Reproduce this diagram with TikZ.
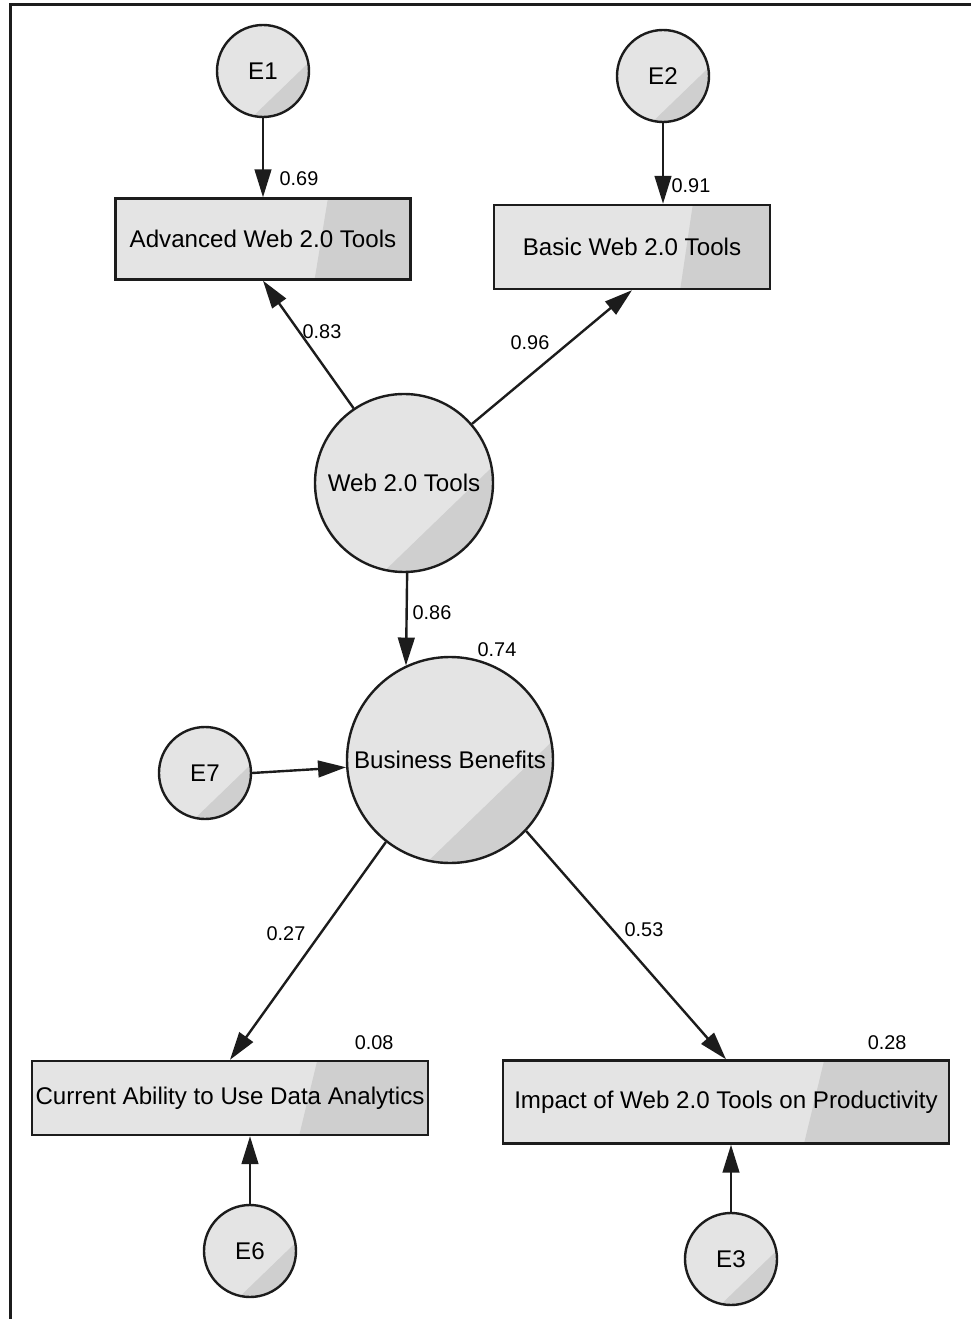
\documentclass[tikz,border=0pt]{standalone}
\usepackage{fontspec}
\setmainfont{Liberation Sans}
\usetikzlibrary{positioning, calc, arrows.meta}
\definecolor{lightfill}{RGB}{228,228,228}
\definecolor{darkfill}{RGB}{207,207,207}
\definecolor{edgegray}{RGB}{28,28,28}

\begin{document}
\begin{tikzpicture}[
    on grid,
    font=\fontsize{18.1}{21}\selectfont,
    shadecirc/.style={path picture={
        \fill[darkfill] ($(path picture bounding box.center)!1!-102:(path picture bounding box.east)$)
            -- ($(path picture bounding box.center)!1!10:(path picture bounding box.east)$)
            -- ($(path picture bounding box.center)!3!-46:(path picture bounding box.east)$) -- cycle;}},
    shadebox/.style={path picture={
        \fill[darkfill] ($(path picture bounding box.north west)!0.72!(path picture bounding box.north east)$)
            -- (path picture bounding box.north east) -- (path picture bounding box.south east)
            -- ($(path picture bounding box.south west)!0.675!(path picture bounding box.south east)$) -- cycle;}},
    latent/.style={circle, draw=edgegray, line width=1.8pt, fill=lightfill, inner sep=0pt, shadecirc},
    errc/.style={latent, minimum size=69pt},
    obs/.style={rectangle, draw=edgegray, line width=1.8pt, fill=lightfill, inner sep=0pt, shadebox},
    coef/.style={font=\fontsize{14.9}{17}\selectfont, inner sep=0pt},
    arrow/.style={line width=1.8pt, draw=edgegray, -{Triangle[length=21pt, width=12.5pt]}}
]
\useasboundingbox (-303pt,-627pt) rectangle (425.25pt,362.25pt);
\draw [line width=2.25pt, edgegray] (-295pt,-627pt) -- (-295pt,359pt) -- (425.25pt,359pt);

% latent variables and indicators
\node (web) [latent, minimum size=133.5pt] {Web 2.0 Tools};
\node (adv) [obs, minimum width=221.25pt, minimum height=60.75pt, above left=183pt and 105.75pt of web] {Advanced Web 2.0 Tools};
\node (basic) [obs, minimum width=207pt, minimum height=63pt, above right=177pt and 171pt of web] {Basic Web 2.0 Tools};
\node (bus) [latent, minimum size=154.5pt, below right=207.75pt and 34.5pt of web] {Business Benefits};
\node (cur) [obs, minimum width=297pt, minimum height=55.5pt, below left=253.5pt and 165pt of bus] {Current Ability to Use Data Analytics};
\node (imp) [obs, minimum width=334.5pt, minimum height=62.25pt, below right=256.5pt and 207pt of bus] {Impact of Web 2.0 Tools on Productivity};

% error terms
\node (e1) [errc, above=126pt of adv] {E1};
\node (e2) [errc, above right=128.25pt and 23.25pt of basic] {E2};
\node (e7) [errc, below left=9.75pt and 183.75pt of bus] {E7};
\node (e6) [errc, below right=114.75pt and 15pt of cur] {E6};
\node (e3) [errc, below right=117.75pt and 3.75pt of imp] {E3};

% paths
\draw [arrow] (e1.south) -- (e1.south |- adv.north);
\draw [arrow] (e2.south) -- (e2.south |- basic.north);
\draw [arrow] (web.124) -- (adv.south);
\draw [arrow] (web.41) -- (basic.south);
\draw [arrow] (web.-88) -- (bus.115);
\draw [arrow] (e7.east) -- (bus.184);
\draw [arrow] (bus.232) -- (cur.north);
\draw [arrow] (bus.317) -- (imp.north);
\draw [arrow] (e6.north) -- (e6.north |- cur.south);
\draw [arrow] (e3.north) -- (e3.north |- imp.south);

% coefficients
\node (c69) [coef] at ([shift={(27pt,13.9pt)}]adv.north) {0.69};
\node (c91) [coef] at ([shift={(44.25pt,13.5pt)}]basic.north) {0.91};
\node (c83) [coef] at ([shift={(44.25pt,-37.9pt)}]adv.south) {0.83};
\node (c96) [coef] at ([shift={(-76.5pt,-39pt)}]basic.south) {0.96};
\node (c86) [coef] at ([shift={(21pt,-29.25pt)}]web.south) {0.86};
\node (c74) [coef] at ([shift={(35.25pt,4.5pt)}]bus.north) {0.74};
\node (c27) [coef] at ([shift={(42pt,94.5pt)}]cur.north) {0.27};
\node (c53) [coef] at ([shift={(-61.5pt,97.5pt)}]imp.north) {0.53};
\node (c08) [coef] at ([shift={(-41.25pt,12.75pt)}]cur.north east) {0.08};
\node (c28) [coef] at ([shift={(-47.25pt,12.75pt)}]imp.north east) {0.28};
\end{tikzpicture}
\end{document}
